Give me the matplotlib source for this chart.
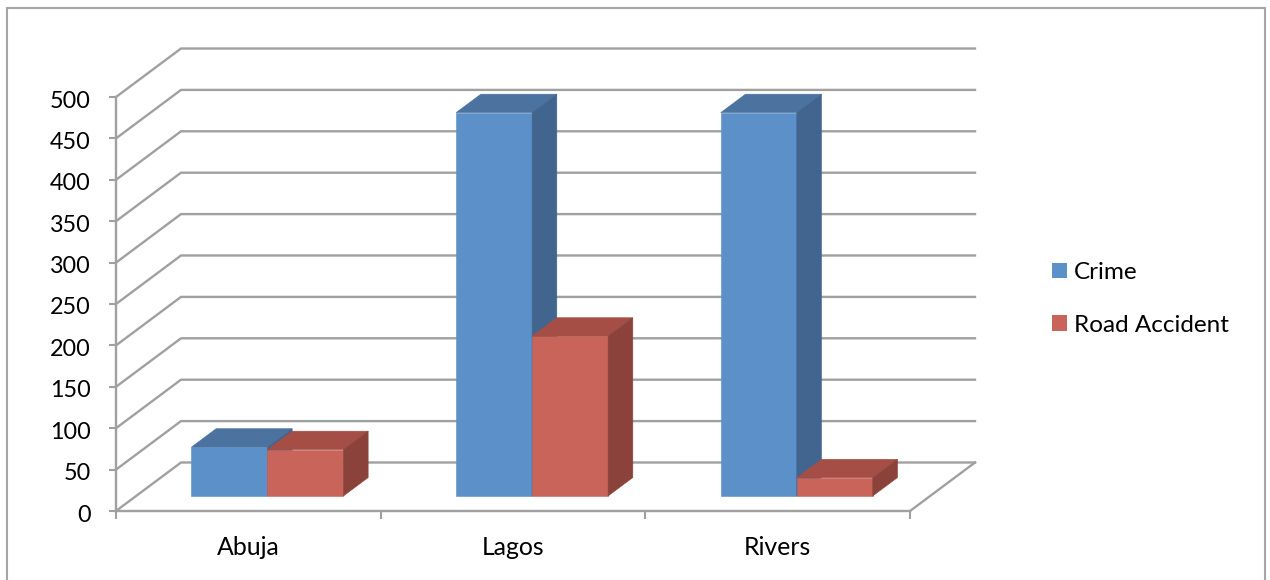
import matplotlib
matplotlib.use("Agg")
import matplotlib.pyplot as plt
from matplotlib.patches import Patch, Rectangle
from matplotlib.transforms import ScaledTranslation

plt.rcParams['font.family'] = ['Lato', 'DejaVu Sans']

categories = ['Abuja', 'Lagos', 'Rivers']
crime = [59, 463, 463]
road_accident = [56, 193, 22]
y_ticks = [0, 50, 100, 150, 200, 250, 300, 350, 400, 450, 500]
series_names = ['Crime', 'Road Accident']

W, H = 1270, 580
GRID = '#A0A0A0'
TXT = '#000000'
FS = 16.8

fig = plt.figure(figsize=(W / 100, H / 100), dpi=100, facecolor='white')
left, right, top, bottom = 116, 910, 97, 511
ax = fig.add_axes([left / W, 1 - bottom / H, (right - left) / W, (bottom - top) / H])
ax.set_xlim(0, len(categories))
ax.set_ylim(0, 500)
ax.set_facecolor('none')

px_x = (right - left) / len(categories)   # pixels per category
px_y = (bottom - top) / 500               # pixels per value unit
DX = 65 / px_x                            # full depth, in category units
DY = 48.5 / px_y                          # full depth, in value units


def proj(c, v, d):
    return c + d * DX, v + d * DY


# walls: one bent gridline per tick
for v in y_ticks:
    pts = [proj(0, v, 0), proj(0, v, 1), proj(len(categories), v, 1)]
    ax.plot(*zip(*pts), color=GRID, lw=1.7, clip_on=False, zorder=1,
            solid_joinstyle='miter')
pts = [proj(len(categories), 0, 0), proj(len(categories), 0, 1)]
ax.plot(*zip(*pts), color=GRID, lw=1.7, clip_on=False, zorder=1)

# bars
BAR_W = 76 / px_x
GAP = 55.3 / px_x
D0, D1 = 0.31, 0.69
palette = [('#5B90C8', '#4C72A0', '#41658F'), ('#C9645B', '#A44E46', '#8A423A')]


def box(c0, c1, v, cols, z):
    front, topc, side = cols
    def poly(p, col):
        ax.fill(*zip(*p), facecolor=col, edgecolor=col, linewidth=0.4, clip_on=False, zorder=z)
    poly([proj(c0, 0, D0), proj(c1, 0, D0), proj(c1, v, D0), proj(c0, v, D0)], front)
    poly([proj(c0, v, D0), proj(c1, v, D0), proj(c1, v, D1), proj(c0, v, D1)], topc)
    poly([proj(c1, 0, D0), proj(c1, 0, D1), proj(c1, v, D1), proj(c1, v, D0)], side)


z = 3
for i in range(len(categories)):
    for j, vals in enumerate([crime, road_accident]):
        c0 = i + GAP + j * BAR_W
        box(c0, c0 + BAR_W, vals[i], palette[j], z)
        z += 1

# axes furniture
for s in ['top', 'right']:
    ax.spines[s].set_visible(False)
for s in ['left', 'bottom']:
    ax.spines[s].set_color(GRID)
    ax.spines[s].set_linewidth(1.7)
    ax.spines[s].set_zorder(2)
ax.set_yticks(y_ticks)
ax.set_yticklabels([str(v) for v in y_ticks])
ax.tick_params(axis='y', length=5, width=1.5, color=GRID, pad=13, labelsize=FS, labelcolor=TXT)
ax.set_xticks(range(len(categories) + 1))
ax.set_xticklabels([])
ax.set_xticks([i + 0.5 for i in range(len(categories))], minor=True)
ax.set_xticklabels(categories, minor=True)
ax.tick_params(axis='x', which='major', length=6, width=1.5, color=GRID, direction='out')
ax.tick_params(axis='x', which='minor', length=0, pad=18, labelsize=17.9, labelcolor=TXT)
shift = ScaledTranslation(0, -2 / 100, fig.dpi_scale_trans)
for lab in ax.get_yticklabels():
    lab.set_transform(lab.get_transform() + shift)

# legend
handles = [Patch(facecolor=palette[k][0], edgecolor='none', label=series_names[k]) for k in range(2)]
fig.legend(handles=handles, loc='upper left', bbox_to_anchor=(1052 / W, 1 - 262 / H),
           frameon=False, borderpad=0, borderaxespad=0, fontsize=17.5, labelspacing=1.31,
           handlelength=0.62, handleheight=0.62, handletextpad=0.27, labelcolor=TXT)

# chart frame
fig.add_artist(Rectangle((6.5 / W, -0.05), (1264.5 - 6.5) / W, 1.05 - 7.5 / H,
                         transform=fig.transFigure, facecolor='none',
                         edgecolor='#A6A6A6', linewidth=1.5, clip_on=False))

fig.savefig('out.png', dpi=100, facecolor='white')
